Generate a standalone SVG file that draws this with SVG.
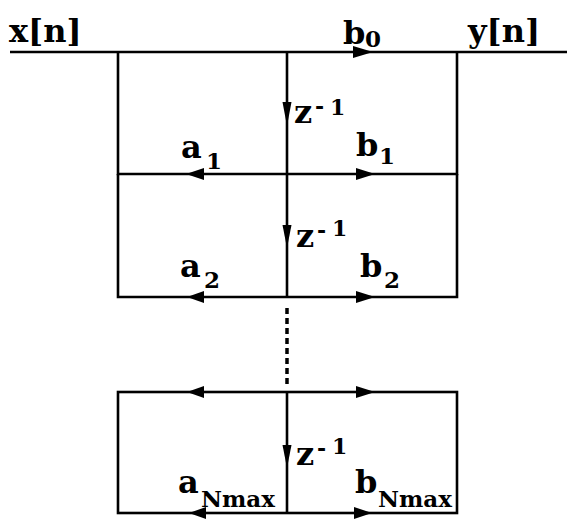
<svg xmlns="http://www.w3.org/2000/svg" width="567" height="519" viewBox="0 0 567 519">
<style>
.ln{stroke:#000;stroke-width:2.6;fill:none}
.ah{fill:#000}
text{font-family:"DejaVu Serif","Liberation Serif",serif;fill:#000;font-weight:bold}
.t{font-size:32px}
.s{font-size:23px}
.p{font-size:22px}
</style>
<rect width="567" height="519" fill="#fff"/>
<g id="connectors">
<line class="ln" x1="10" y1="52" x2="567" y2="52"/>
<polyline class="ln" points="118,52 118,174 457,174 457,52"/>
<line class="ln" x1="287" y1="52" x2="287" y2="174"/>
<polyline class="ln" points="118,174 118,297 457,297 457,174"/>
<line class="ln" x1="287" y1="174" x2="287" y2="297"/>
<line x1="287" y1="308" x2="287" y2="384" stroke="#000" stroke-width="3.5" stroke-dasharray="6,4"/>
<rect class="ln" x="118" y="392" width="339" height="121"/>
<line class="ln" x1="287" y1="392" x2="287" y2="513"/>
<polygon class="ah" points="353,46 373,52 353,58"/>
<polygon class="ah" points="282.5,102 291.5,102 287,126"/>
<polygon class="ah" points="204,168 186,174 204,180"/>
<polygon class="ah" points="356,168 375,174 356,180"/>
<polygon class="ah" points="282.5,225 291.5,225 287,248"/>
<polygon class="ah" points="204,291 187,297 204,303"/>
<polygon class="ah" points="356,291 375,297 356,303"/>
<polygon class="ah" points="204,386 187,392 204,398"/>
<polygon class="ah" points="356,386 375,392 356,398"/>
<polygon class="ah" points="282.5,445 291.5,445 287,468"/>
<polygon class="ah" points="206,507 189,513 206,519"/>
<polygon class="ah" points="354,507 372,513 354,519"/>
</g>
<g id="labels">
<text class="t" x="9" y="42">x[n]</text>
<text class="t" x="468" y="42">y[n]</text>
<text class="t" x="343" y="44">b</text><text class="s" x="365" y="47">0</text>
<text class="t" x="294" y="123">z</text><text class="p" x="315" y="114">-</text><text class="p" x="330" y="115">1</text>
<text class="t" x="181" y="158">a</text><text class="s" x="206" y="169">1</text>
<text class="t" x="356" y="156">b</text><text class="s" x="379" y="164">1</text>
<text class="t" x="296" y="247">z</text><text class="p" x="317" y="238">-</text><text class="p" x="332" y="236">1</text>
<text class="t" x="180" y="277">a</text><text class="s" x="204" y="288">2</text>
<text class="t" x="360" y="277">b</text><text class="s" x="384" y="288">2</text>
<text class="t" x="296" y="465">z</text><text class="p" x="317" y="456">-</text><text class="p" x="332" y="454">1</text>
<text class="t" x="178" y="493">a</text><text class="s" x="201" y="507" textLength="74" lengthAdjust="spacingAndGlyphs">Nmax</text>
<text class="t" x="355" y="493">b</text><text class="s" x="378" y="507" textLength="74" lengthAdjust="spacingAndGlyphs">Nmax</text>
</g>
</svg>
